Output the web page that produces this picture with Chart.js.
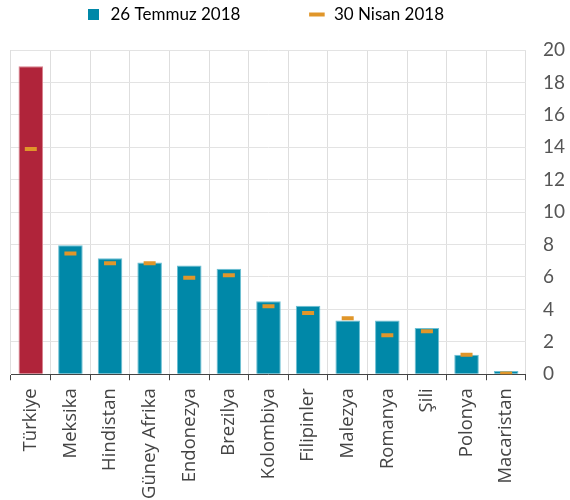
<!DOCTYPE html>
<html>
<head>
<meta charset="utf-8">
<script src="https://cdn.jsdelivr.net/npm/chart.js@4"></script>
<style>
  body { margin: 0; background: #fff; }
  #wrap { width: 570px; height: 500px; }
</style>
</head>
<body>
<div id="wrap"><canvas id="grafik"></canvas></div>
<script>
const ulkeler = ["Türkiye", "Meksika", "Hindistan", "Güney Afrika", "Endonezya", "Brezilya",
  "Kolombiya", "Filipinler", "Malezya", "Romanya", "Şili", "Polonya", "Macaristan"];
const temmuz = [19.0, 7.95, 7.15, 6.9, 6.7, 6.5, 4.5, 4.22, 3.32, 3.32, 2.85, 1.2, 0.2];
const nisan = [13.9, 7.45, 6.85, 6.85, 5.95, 6.1, 4.2, 3.77, 3.45, 2.4, 2.65, 1.2, 0.05];
const seriAdlari = ["26 Temmuz 2018", "30 Nisan 2018"];

const teal = "#0088a8";
const kirmizi = "#b0243a";
const turuncu = "#e0962a";

// lejant ile grafik arasında boşluk, lejantı biraz sola kaydır
const lejantAyar = {
  id: "lejantAyar",
  beforeInit(chart) {
    const eskiFit = chart.legend.fit;
    chart.legend.fit = function () {
      eskiFit.bind(chart.legend)();
      this.height += 17;
    };
  },
  afterLayout(chart) {
    chart.legend.left -= 32;
    chart.legend.right -= 32;
  }
};

const ctx = document.getElementById("grafik").getContext("2d");
new Chart(ctx, {
  type: "bar",
  data: {
    labels: ulkeler,
    datasets: [
      {
        type: "line",
        label: seriAdlari[1],
        data: nisan,
        showLine: false,
        pointStyle: "line",
        pointRadius: 6,
        pointHoverRadius: 6,
        borderColor: turuncu,
        backgroundColor: turuncu,
        pointBorderWidth: 4,
        order: 0
      },
      {
        label: seriAdlari[0],
        data: temmuz,
        backgroundColor: ulkeler.map((u, i) => i === 0 ? kirmizi : teal),
        borderColor: ulkeler.map((u, i) => i === 0 ? "#d9808c" : "#6cc0d4"),
        borderWidth: 1,
        barPercentage: 0.62,
        categoryPercentage: 1,
        order: 1
      }
    ]
  },
  options: {
    responsive: true,
    maintainAspectRatio: false,
    animation: false,
    layout: { padding: { left: 11, right: -12, top: 0, bottom: -7 } },
    plugins: {
      tooltip: { enabled: false },
      legend: {
        position: "top",
        align: "center",
        labels: {
          font: { family: "Lato", size: 17 },
          color: "#444",
          usePointStyle: true,
          boxHeight: 11,
          padding: 6,
          generateLabels: () => [
            { text: seriAdlari[0], fillStyle: teal, strokeStyle: teal, lineWidth: 0, pointStyle: "rect", datasetIndex: 1 },
            { text: "       ", fillStyle: "#fff", strokeStyle: "#fff", lineWidth: 0, pointStyle: "rect", datasetIndex: 2 },
            { text: seriAdlari[1], fillStyle: turuncu, strokeStyle: turuncu, lineWidth: 4, pointStyle: "line", datasetIndex: 0 }
          ]
        }
      }
    },
    scales: {
      x: {
        offset: true,
        grid: {
          offset: true,
          color: "#dedede",
          lineWidth: 1,
          tickColor: "#444",
          tickLength: 6
        },
        border: { color: "#444", width: 1 },
        ticks: {
          minRotation: 90,
          maxRotation: 90,
          autoSkip: false,
          padding: 8,
          color: "#444",
          font: { family: "Open Sans", size: 18.5 }
        }
      },
      y: {
        position: "right",
        min: 0,
        max: 20,
        ticks: {
          stepSize: 2,
          padding: 17,
          color: "#555",
          font: { family: "Lato", size: 19 }
        },
        grid: { color: "#e3e3e3", drawTicks: false },
        border: { display: false }
      }
    }
  },
  plugins: [lejantAyar]
});
</script>
</body>
</html>
